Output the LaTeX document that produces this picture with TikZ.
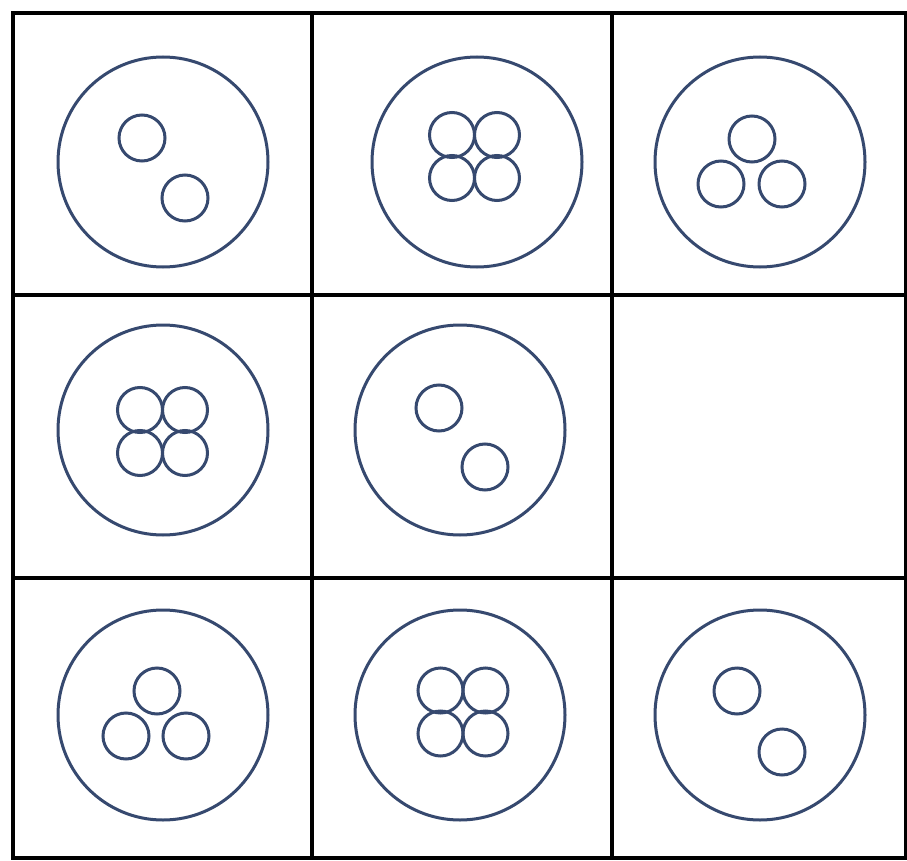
\documentclass[tikz,border=0pt]{standalone}
\begin{document}
\begin{tikzpicture}[x=1pt,y=-1pt,
  gridline/.style={draw=black,line width=3.2pt},
  bigc/.style={draw=ringblue,line width=3pt},
  smallc/.style={draw=ringblue,line width=3pt}]
\definecolor{ringblue}{HTML}{36496F}
\useasboundingbox (0,0) rectangle (907,861);
\fill[white] (0,0) rectangle (907,861);
% grid
\draw[gridline] (13,13) rectangle (906,858);
\draw[gridline] (312,13) -- (312,858);
\draw[gridline] (612,13) -- (612,858);
\draw[gridline] (13,295) -- (906,295);
\draw[gridline] (13,578) -- (906,578);
% big circles
\foreach \x/\y in {163/162, 477/162, 760/162, 163/430, 460/430, 163/715, 460/715, 760/715}
  \draw[bigc] (\x,\y) circle[radius=105];
% two circles
\foreach \x/\y in {142/138, 185/198, 439/408, 485/467, 737/691, 782/752}
  \draw[smallc] (\x,\y) circle[radius=23];
% four circles
\foreach \cx/\cy in {474.5/156.5, 162.5/431.5, 463/712}{
  \foreach \dx/\dy in {-22.5/-21.5, 22.5/-21.5, -22.5/21.5, 22.5/21.5}
    \draw[smallc] (\cx+\dx,\cy+\dy) circle[radius=22.5];
}
% three circles
\foreach \x/\y in {752/139, 721/184, 782/184, 157/691, 126/736, 186/736}
  \draw[smallc] (\x,\y) circle[radius=23];
\end{tikzpicture}
\end{document}
